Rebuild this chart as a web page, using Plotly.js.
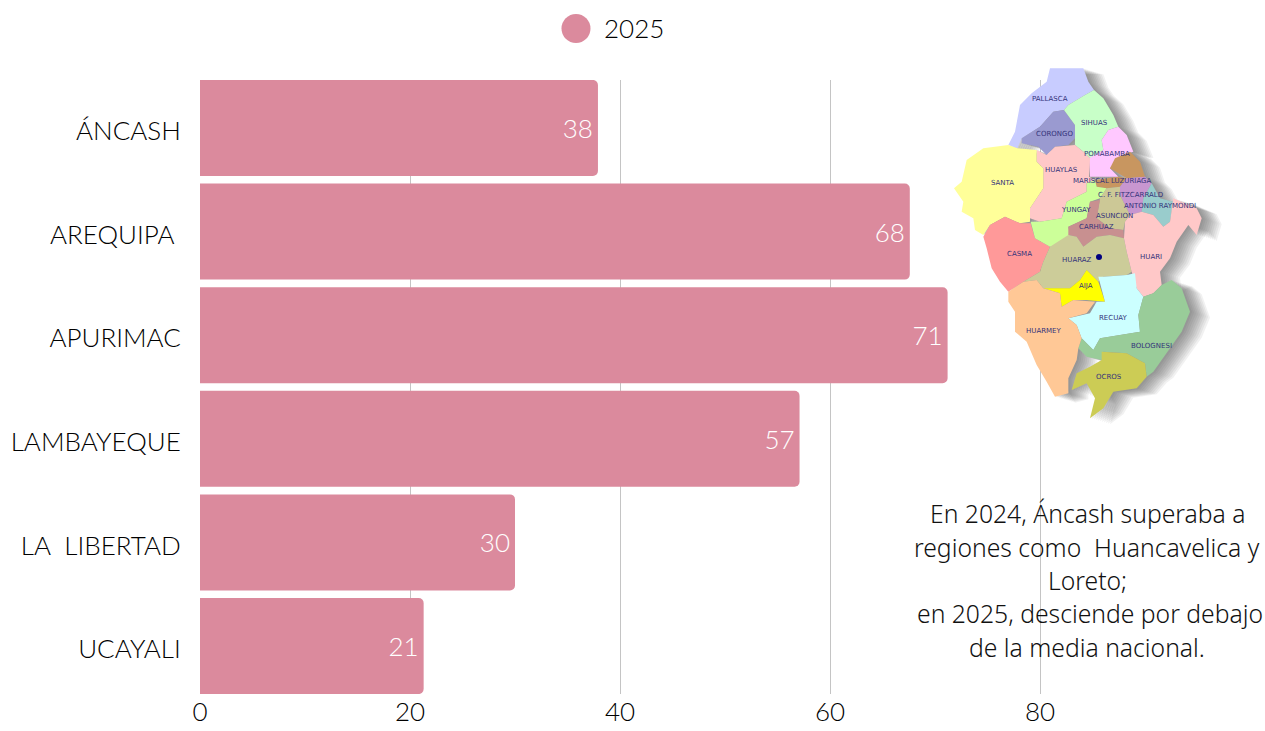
<!DOCTYPE html>
<html><head><meta charset="utf-8">
<script src="https://cdn.plot.ly/plotly-3.0.1.min.js"></script>
<style>html,body{margin:0;padding:0;background:#fff}</style></head>
<body><div id="chart" style="width:1265px;height:731px"></div>
<script>
const categories = ["ÁNCASH","AREQUIPA ","APURIMAC","LAMBAYEQUE","LA&nbsp;&nbsp;LIBERTAD","UCAYALI"];
const values2025 = [37.9,67.6,71.2,57.1,30,21.3];
const labels2025 = ["38","68","71","57","30","21"];
const seriesName = "2025";
const xTicks = [0,20,40,60,80];
const noteLines = ["En 2024, Áncash superaba a","regiones como  Huancavelica y","Loreto;","en 2025, desciende por debajo","de la media nacional."];

// decorative district map of Áncash (outline in reference-zoom coordinates)
const districts = [
 ["#c8ccff",[330,40,430,40,445,80,462,105,435,120,385,150,372,165,340,170,300,215,245,250,232,280,205,270,225,230,240,150,275,115,320,80]],
 ["#9a9ad0",[340,170,372,165,390,190,405,210,405,250,385,270,345,275,320,300,295,275,245,265,245,250,300,215]],
 ["#c8ffc8",[385,150,435,120,462,105,490,130,520,180,535,215,505,225,485,255,490,285,450,310,430,290,405,270,405,210,372,165]],
 ["#ffc8ff",[535,215,560,240,580,290,545,300,525,325,510,340,535,365,450,365,447,310,490,285,485,255,505,225]],
 ["#c89660",[570,290,600,320,615,365,560,370,510,340,525,310]],
 ["#c89660",[465,375,470,395,500,400,540,395,560,370,535,365]],
 ["#ffc8c8",[290,285,320,300,345,275,405,270,430,290,450,310,447,365,465,375,440,385,440,410,380,440,365,490,300,500,270,490,270,460,310,400,310,340,290,320]],
 ["#ffff99",[232,280,205,270,130,280,80,315,65,380,42,400,70,440,65,470,100,490,105,525,130,540,150,510,195,485,240,505,270,500,270,460,310,400,310,340,290,320,290,285]],
 ["#ff9999",[130,545,150,510,195,485,240,505,272,505,285,550,330,575,310,620,300,650,250,680,205,710,180,680,155,640,140,580]],
 ["#ccff99",[272,500,300,500,365,490,380,440,440,410,440,385,465,375,470,395,500,400,480,430,450,440,440,490,385,515,390,540,340,575,330,575,285,550]],
 ["#c896d0",[540,395,560,370,615,365,635,385,610,430,605,470,570,480,550,440,540,420]],
 ["#ccc896",[480,430,500,400,540,395,540,420,550,440,570,480,555,500,550,525,510,520,470,490]],
 ["#c89090",[450,440,480,435,470,490,510,520,550,525,552,550,510,540,470,545,430,575,410,545,385,540,385,515,440,490]],
 ["#cccc99",[310,620,330,575,385,540,410,545,430,575,470,545,510,540,552,550,560,590,575,650,560,660,490,665,475,680,440,645,420,675,390,700,360,700,310,700,290,675,250,680,300,650]],
 ["#99cccc",[635,385,660,430,700,440,690,500,670,515,640,480,605,470,610,430]],
 ["#ffc8c8",[605,470,640,480,670,515,690,500,700,430,770,460,785,490,770,540,745,510,710,560,690,610,660,650,665,690,640,715,610,725,590,700,575,650,560,590,552,550,555,500,570,480]],
 ["#ffff00",[440,645,475,680,495,740,440,735,400,735,365,755,360,715,310,700,390,700,420,675]],
 ["#ccffff",[475,665,490,665,560,660,585,655,590,700,610,725,595,780,600,830,540,840,480,850,460,885,425,850,410,810,385,790,450,775,470,740,495,740]],
 ["#99cc99",[610,725,640,715,665,690,695,675,725,700,750,770,725,830,690,880,640,950,620,965,615,925,560,895,490,890,485,915,440,905,415,880,425,850,460,885,480,850,540,840,600,830,595,780]],
 ["#cccc55",[485,890,560,895,615,925,620,965,590,1000,520,1010,490,1060,450,1090,465,1030,440,985,395,1005,410,955,450,935,485,915]],
 ["#ffc896",[205,710,250,680,290,675,310,700,360,715,365,755,400,735,465,740,440,775,385,790,410,810,425,850,415,880,410,915,385,970,385,1015,345,1025,320,980,290,930,260,860,225,830,225,770,205,740]]
];
const mapLabels = [["PALLASCA",330,131],["SIHUAS",464,205],["CORONGO",344,236],["POMABAMBA",500,298],["HUAYLAS",365,344],["SANTA",188,385],["MARISCAL LUZURIAGA",516,378],["C. F. FITZCARRALD",570,421],["ANTONIO RAYMONDI",660,452],["YUNGAY",408,466],["ASUNCION",523,483],["CARHUAZ",470,517],["CASMA",237,597],["HUARAZ",410,614],["HUARI",634,605],["AIJA",437,694],["RECUAY",520,790],["HUARMEY",312,828],["BOLOGNESI",635,872],["OCROS",507,966]];

const W=1265,H=731,mL=200,mR=15,mT=80,mB=37;
const px=x=>(x-mL)/(W-mL-mR), py=y=>1-(y-mT)/(H-mT-mB);
const zx=x=>940+x/3, zy=y=>55+y/3;
const pathOf=(pts,dx,dy)=>{let s="";for(let i=0;i<pts.length;i+=2){s+=(i?"L":"M")+px(zx(pts[i])+dx).toFixed(5)+","+py(zy(pts[i+1])+dy).toFixed(5);}return s+"Z";};

const shapes=[];
[20,18,16,14,12,10,8,6,4,2].forEach(o=>{
  shapes.push({type:"path",xref:"paper",yref:"paper",layer:"above",path:districts.map(d=>pathOf(d[1],o,o*.3)).join(""),fillcolor:"#444",opacity:.075,line:{width:0}});
});
districts.forEach(d=>shapes.push({type:"path",xref:"paper",yref:"paper",layer:"above",path:pathOf(d[1],0,0),fillcolor:d[0],line:{width:0}}));
shapes.push({type:"circle",xref:"paper",yref:"paper",layer:"above",x0:px(1096),x1:px(1102),y0:py(254),y1:py(260),fillcolor:"#000080",line:{width:0}});
shapes.push({type:"circle",xref:"paper",yref:"paper",x0:px(561.5),x1:px(590.5),y0:py(14),y1:py(43),fillcolor:"#db8a9d",line:{width:0}});

const uiFont="Lato, 'Noto Sans', sans-serif";
const noteFont="'Noto Sans', Lato, sans-serif";
const annotations=[
 {xref:"paper",yref:"paper",x:px(602),y:py(28),xanchor:"left",yanchor:"middle",text:seriesName,showarrow:false,font:{family:uiFont,size:26,weight:300,color:"#000"}}
];
mapLabels.forEach(l=>annotations.push({xref:"paper",yref:"paper",x:px(zx(l[1])),y:py(zy(l[2])),xanchor:"center",yanchor:"middle",text:l[0],showarrow:false,font:{family:"'DejaVu Sans',sans-serif",size:7,color:"#33337a"}}));
const noteY=[513,547,580,613,647], noteX=[1087,1087,1087,1090,1087];
noteLines.forEach((t,i)=>annotations.push({xref:"paper",yref:"paper",x:px(noteX[i]),y:py(noteY[i]),xanchor:"center",yanchor:"middle",text:t.replace(/  /g,"&nbsp; "),showarrow:false,font:{family:noteFont,size:24.7,weight:300,color:"#111"}}));

Plotly.newPlot("chart",[{
  type:"bar",orientation:"h",y:categories,x:values2025,name:seriesName,
  marker:{color:"#db8a9d",line:{width:0}},
  text:labels2025,textposition:"inside",insidetextanchor:"end",
  textangle:0,constraintext:"none",
  textfont:{family:uiFont,size:26,weight:300,color:"#fff"},cliponaxis:false,hoverinfo:"x+y"
}],{
  width:W,height:H,autosize:false,
  paper_bgcolor:"#fff",plot_bgcolor:"#fff",showlegend:false,
  margin:{l:mL,r:mR,t:mT,b:mB,pad:0},
  bargap:0.073,barcornerradius:5,
  xaxis:{range:[0,100],tickvals:xTicks,ticktext:xTicks.map(String),showgrid:true,gridcolor:"#c4c4c4",gridwidth:1,zeroline:false,showline:false,ticks:"",tickfont:{family:uiFont,size:26,weight:300,color:"#000"},automargin:false},
  yaxis:{type:"category",categoryorder:"array",categoryarray:categories,range:[5.463,-0.463],showgrid:false,zeroline:false,showline:false,ticks:"outside",ticklen:13,tickcolor:"rgba(0,0,0,0)",ticklabelshift:-3,tickfont:{family:uiFont,size:26,weight:300,color:"#000"},automargin:false},
  shapes,annotations
},{displayModeBar:false,staticPlot:true});
</script></body></html>
